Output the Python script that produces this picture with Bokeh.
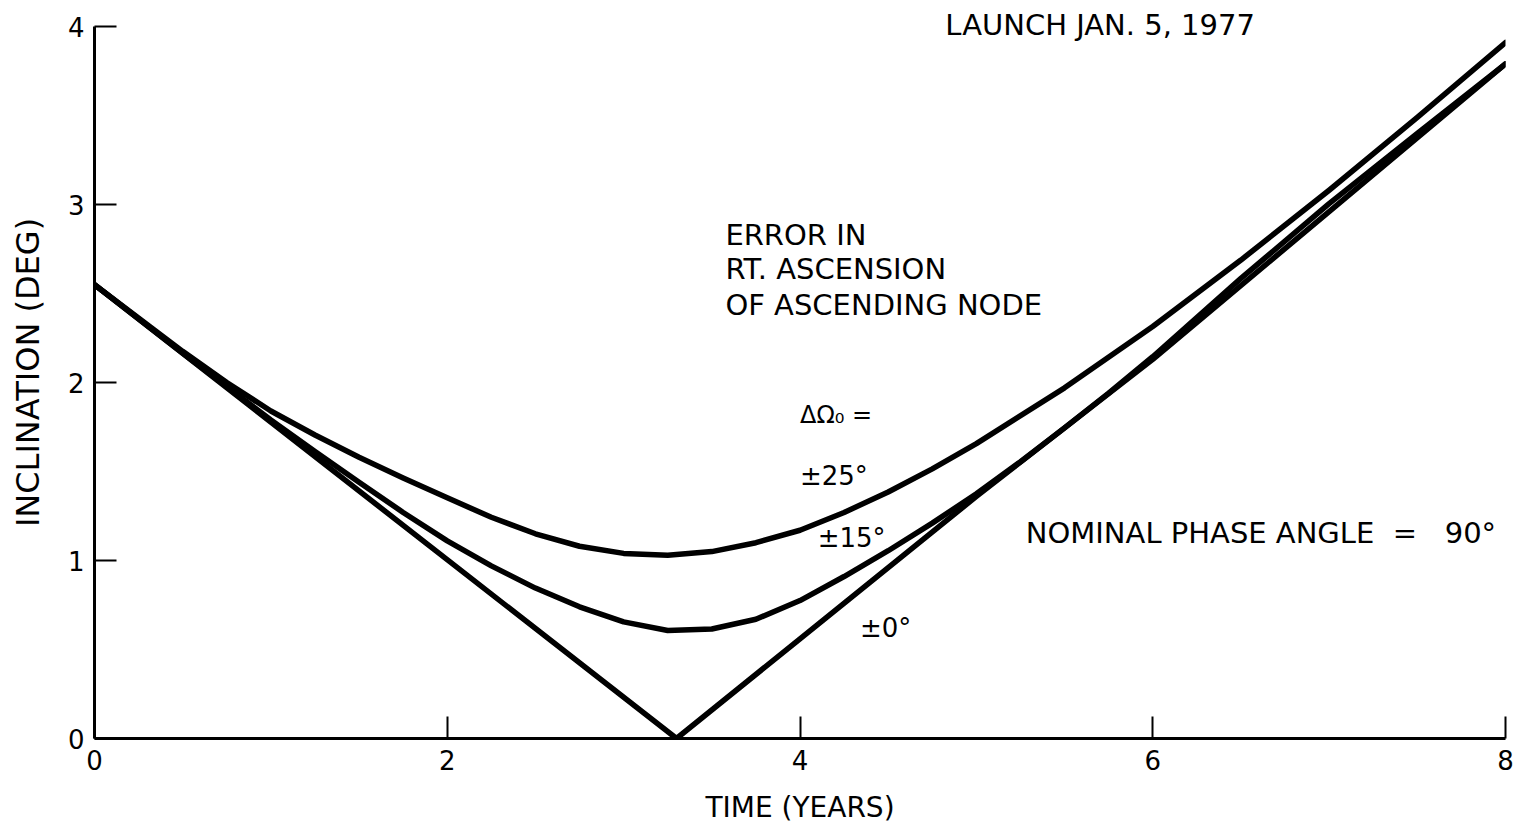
from bokeh.plotting import figure
from bokeh.models import Range1d, Label, FixedTicker
from bokeh.embed import file_html
from bokeh.resources import INLINE

# ---- data ----
years_25 = [0, 0.5, 0.75, 1.0, 1.25, 1.5, 1.75, 2.0, 2.25, 2.5, 2.75, 3.0, 3.25, 3.5, 3.75,
            4.0, 4.25, 4.5, 4.75, 5.0, 5.5, 6.0, 6.5, 7.0, 7.5, 8.0]
incl_25 = [2.55, 2.175, 2.0, 1.84, 1.705, 1.58, 1.463, 1.352, 1.243, 1.15, 1.08, 1.04, 1.03, 1.05, 1.10,
           1.17, 1.27, 1.385, 1.515, 1.657, 1.97, 2.315, 2.688, 3.08, 3.49, 3.91]

years_15 = [0, 0.5, 1.0, 1.25, 1.5, 1.75, 2.0, 2.25, 2.5, 2.75, 3.0, 3.25, 3.5, 3.75,
            4.0, 4.25, 4.5, 4.75, 5.0, 5.25, 5.5, 5.75, 6.0, 6.5, 7.0, 7.5, 8.0]
incl_15 = [2.55, 2.165, 1.79, 1.612, 1.44, 1.27, 1.11, 0.97, 0.845, 0.74, 0.655, 0.607, 0.615, 0.67,
           0.775, 0.91, 1.055, 1.21, 1.375, 1.555, 1.745, 1.94, 2.145, 2.585, 3.005, 3.40, 3.79]

years_0 = [0, 3.3, 4.0, 5.0, 6.0, 7.0, 8.0]
incl_0 = [2.55, 0.0, 0.56, 1.36, 2.13, 2.96, 3.79]

x_ticks = [0, 2, 4, 6, 8]
y_ticks = [0, 1, 2, 3, 4]
X_MAX = 8
Y_MAX = 4

FONT = "DejaVu Sans"
PX_PER_UNIT_Y = 178.0
TOP_PAD_PX = 20.0
NBSP = "\u00a0"

p = figure(width=1515, height=830,
           x_range=Range1d(0, X_MAX), y_range=Range1d(0, Y_MAX + TOP_PAD_PX / PX_PER_UNIT_Y),
           output_backend="svg", toolbar_location=None,
           min_border_left=94, min_border_right=10,
           min_border_top=6, min_border_bottom=92)
p.outline_line_color = None
p.xgrid.grid_line_color = None
p.ygrid.grid_line_color = None
p.background_fill_color = "white"
p.border_fill_color = "white"

for ax in (p.xaxis[0], p.yaxis[0]):
    ax.axis_line_width = 3
    ax.axis_line_color = "black"
    ax.major_tick_in = 22
    ax.major_tick_out = 0
    ax.major_tick_line_width = 2
    ax.major_tick_line_color = "black"
    ax.minor_tick_line_color = None
    ax.major_label_text_font = FONT
    ax.major_label_text_font_size = "26px"
    ax.major_label_text_color = "black"
    ax.axis_label_text_font = FONT
    ax.axis_label_text_font_style = "normal"
    ax.axis_label_text_color = "black"

p.yaxis[0].bounds = (0, Y_MAX)
p.xaxis[0].bounds = (0, X_MAX)
p.xaxis[0].ticker = FixedTicker(ticks=x_ticks)
p.yaxis[0].ticker = FixedTicker(ticks=y_ticks)
p.xaxis[0].axis_label = "TIME (YEARS)"
p.yaxis[0].axis_label = "INCLINATION (DEG)"
p.xaxis[0].axis_label_text_font_size = "28px"
p.yaxis[0].axis_label_text_font_size = "32px"
p.xaxis[0].major_label_standoff = 11
p.yaxis[0].major_label_standoff = 10
p.xaxis[0].axis_label_standoff = 18
p.yaxis[0].axis_label_standoff = 18

for xs, ys in ((years_25, incl_25), (years_15, incl_15), (years_0, incl_0)):
    p.line(xs, ys, line_color="black", line_width=5.5, line_join="round", line_cap="round")

def lab(x, y, text, size="29px"):
    p.add_layout(Label(x=x, y=y, text=text, text_font=FONT, text_font_size=size,
                       text_color="black", text_baseline="middle", text_align="left"))

lab(4.824, 4.011, "LAUNCH JAN. 5, 1977")
lab(3.577, 2.831, "ERROR IN")
lab(3.577, 2.635, "RT. ASCENSION")
lab(3.577, 2.438, "OF ASCENDING NODE")
lab(4.0, 1.817, "ΔΩ₀ =", size="24px")
lab(4.0, 1.472, "±25°", size="26px")
lab(4.10, 1.124, "±15°", size="26px")
lab(4.34, 0.618, "±0°", size="26px")
lab(5.28, 1.152, "NOMINAL PHASE ANGLE" + NBSP + " =" + NBSP * 2 + " 90°")

open("out.html", "w").write(file_html(p, INLINE))
